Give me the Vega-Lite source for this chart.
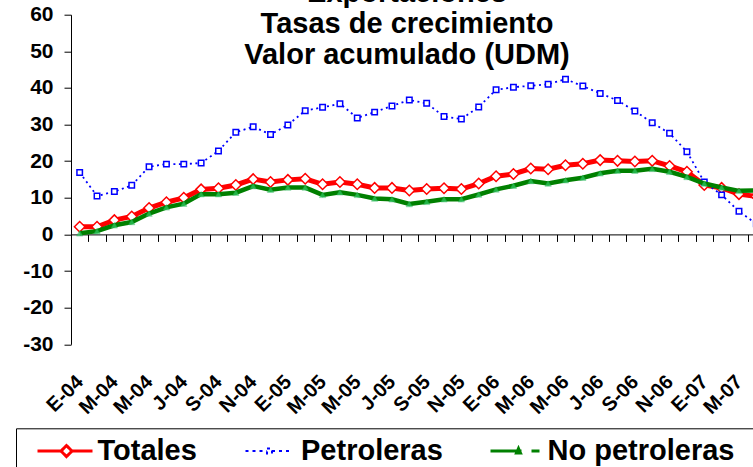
{
  "$schema": "https://vega.github.io/schema/vega-lite/v6.json",
  "width": 694,
  "height": 329.6,
  "autosize": {"type": "none"},
  "padding": {"left": 71, "top": 14.7, "right": 0, "bottom": 122.7},
  "background": "white",
  "title": {
    "text": ["Exportaciones", "Tasas de crecimiento", "Valor acumulado (UDM)"],
    "font": "Liberation Sans",
    "fontSize": 29,
    "fontWeight": "bold",
    "lineHeight": 31,
    "color": "black",
    "anchor": "middle",
    "offset": 0,
    "dx": -11,
    "dy": 66
  },
  "data": {
    "values": [
      {"mes": "2004-01", "serie": "Totales", "valor": 2.1}, {"mes": "2004-01", "serie": "Petroleras", "valor": 16.9}, {"mes": "2004-01", "serie": "No petroleras", "valor": 0.3},
      {"mes": "2004-02", "serie": "Totales", "valor": 2.1}, {"mes": "2004-02", "serie": "Petroleras", "valor": 10.5}, {"mes": "2004-02", "serie": "No petroleras", "valor": 0.9},
      {"mes": "2004-03", "serie": "Totales", "valor": 3.9}, {"mes": "2004-03", "serie": "Petroleras", "valor": 11.7}, {"mes": "2004-03", "serie": "No petroleras", "valor": 2.5},
      {"mes": "2004-04", "serie": "Totales", "valor": 4.9}, {"mes": "2004-04", "serie": "Petroleras", "valor": 13.4}, {"mes": "2004-04", "serie": "No petroleras", "valor": 3.4},
      {"mes": "2004-05", "serie": "Totales", "valor": 7.2}, {"mes": "2004-05", "serie": "Petroleras", "valor": 18.5}, {"mes": "2004-05", "serie": "No petroleras", "valor": 5.7},
      {"mes": "2004-06", "serie": "Totales", "valor": 8.8}, {"mes": "2004-06", "serie": "Petroleras", "valor": 19.2}, {"mes": "2004-06", "serie": "No petroleras", "valor": 7.4},
      {"mes": "2004-07", "serie": "Totales", "valor": 10.0}, {"mes": "2004-07", "serie": "Petroleras", "valor": 19.2}, {"mes": "2004-07", "serie": "No petroleras", "valor": 8.4},
      {"mes": "2004-08", "serie": "Totales", "valor": 12.3}, {"mes": "2004-08", "serie": "Petroleras", "valor": 19.5}, {"mes": "2004-08", "serie": "No petroleras", "valor": 11.0},
      {"mes": "2004-09", "serie": "Totales", "valor": 12.6}, {"mes": "2004-09", "serie": "Petroleras", "valor": 22.8}, {"mes": "2004-09", "serie": "No petroleras", "valor": 11.0},
      {"mes": "2004-10", "serie": "Totales", "valor": 13.5}, {"mes": "2004-10", "serie": "Petroleras", "valor": 27.9}, {"mes": "2004-10", "serie": "No petroleras", "valor": 11.4},
      {"mes": "2004-11", "serie": "Totales", "valor": 15.1}, {"mes": "2004-11", "serie": "Petroleras", "valor": 29.4}, {"mes": "2004-11", "serie": "No petroleras", "valor": 13.2},
      {"mes": "2004-12", "serie": "Totales", "valor": 14.3}, {"mes": "2004-12", "serie": "Petroleras", "valor": 27.3}, {"mes": "2004-12", "serie": "No petroleras", "valor": 12.2},
      {"mes": "2005-01", "serie": "Totales", "valor": 14.9}, {"mes": "2005-01", "serie": "Petroleras", "valor": 29.9}, {"mes": "2005-01", "serie": "No petroleras", "valor": 12.8},
      {"mes": "2005-02", "serie": "Totales", "valor": 15.2}, {"mes": "2005-02", "serie": "Petroleras", "valor": 33.8}, {"mes": "2005-02", "serie": "No petroleras", "valor": 12.8},
      {"mes": "2005-03", "serie": "Totales", "valor": 13.7}, {"mes": "2005-03", "serie": "Petroleras", "valor": 34.7}, {"mes": "2005-03", "serie": "No petroleras", "valor": 10.8},
      {"mes": "2005-04", "serie": "Totales", "valor": 14.3}, {"mes": "2005-04", "serie": "Petroleras", "valor": 35.7}, {"mes": "2005-04", "serie": "No petroleras", "valor": 11.5},
      {"mes": "2005-05", "serie": "Totales", "valor": 13.7}, {"mes": "2005-05", "serie": "Petroleras", "valor": 31.8}, {"mes": "2005-05", "serie": "No petroleras", "valor": 10.8},
      {"mes": "2005-06", "serie": "Totales", "valor": 12.7}, {"mes": "2005-06", "serie": "Petroleras", "valor": 33.4}, {"mes": "2005-06", "serie": "No petroleras", "valor": 9.8},
      {"mes": "2005-07", "serie": "Totales", "valor": 12.7}, {"mes": "2005-07", "serie": "Petroleras", "valor": 35.1}, {"mes": "2005-07", "serie": "No petroleras", "valor": 9.6},
      {"mes": "2005-08", "serie": "Totales", "valor": 12.0}, {"mes": "2005-08", "serie": "Petroleras", "valor": 36.7}, {"mes": "2005-08", "serie": "No petroleras", "valor": 8.3},
      {"mes": "2005-09", "serie": "Totales", "valor": 12.4}, {"mes": "2005-09", "serie": "Petroleras", "valor": 35.8}, {"mes": "2005-09", "serie": "No petroleras", "valor": 8.9},
      {"mes": "2005-10", "serie": "Totales", "valor": 12.6}, {"mes": "2005-10", "serie": "Petroleras", "valor": 32.2}, {"mes": "2005-10", "serie": "No petroleras", "valor": 9.6},
      {"mes": "2005-11", "serie": "Totales", "valor": 12.4}, {"mes": "2005-11", "serie": "Petroleras", "valor": 31.5}, {"mes": "2005-11", "serie": "No petroleras", "valor": 9.6},
      {"mes": "2005-12", "serie": "Totales", "valor": 13.9}, {"mes": "2005-12", "serie": "Petroleras", "valor": 34.8}, {"mes": "2005-12", "serie": "No petroleras", "valor": 10.9},
      {"mes": "2006-01", "serie": "Totales", "valor": 15.9}, {"mes": "2006-01", "serie": "Petroleras", "valor": 39.5}, {"mes": "2006-01", "serie": "No petroleras", "valor": 12.3},
      {"mes": "2006-02", "serie": "Totales", "valor": 16.5}, {"mes": "2006-02", "serie": "Petroleras", "valor": 40.2}, {"mes": "2006-02", "serie": "No petroleras", "valor": 13.3},
      {"mes": "2006-03", "serie": "Totales", "valor": 18.0}, {"mes": "2006-03", "serie": "Petroleras", "valor": 40.6}, {"mes": "2006-03", "serie": "No petroleras", "valor": 14.6},
      {"mes": "2006-04", "serie": "Totales", "valor": 17.8}, {"mes": "2006-04", "serie": "Petroleras", "valor": 41.0}, {"mes": "2006-04", "serie": "No petroleras", "valor": 13.9},
      {"mes": "2006-05", "serie": "Totales", "valor": 18.9}, {"mes": "2006-05", "serie": "Petroleras", "valor": 42.4}, {"mes": "2006-05", "serie": "No petroleras", "valor": 14.8},
      {"mes": "2006-06", "serie": "Totales", "valor": 19.3}, {"mes": "2006-06", "serie": "Petroleras", "valor": 40.5}, {"mes": "2006-06", "serie": "No petroleras", "valor": 15.5},
      {"mes": "2006-07", "serie": "Totales", "valor": 20.3}, {"mes": "2006-07", "serie": "Petroleras", "valor": 38.5}, {"mes": "2006-07", "serie": "No petroleras", "valor": 16.7},
      {"mes": "2006-08", "serie": "Totales", "valor": 20.1}, {"mes": "2006-08", "serie": "Petroleras", "valor": 36.6}, {"mes": "2006-08", "serie": "No petroleras", "valor": 17.4},
      {"mes": "2006-09", "serie": "Totales", "valor": 19.9}, {"mes": "2006-09", "serie": "Petroleras", "valor": 33.7}, {"mes": "2006-09", "serie": "No petroleras", "valor": 17.4},
      {"mes": "2006-10", "serie": "Totales", "valor": 20.1}, {"mes": "2006-10", "serie": "Petroleras", "valor": 30.5}, {"mes": "2006-10", "serie": "No petroleras", "valor": 17.9},
      {"mes": "2006-11", "serie": "Totales", "valor": 18.7}, {"mes": "2006-11", "serie": "Petroleras", "valor": 27.6}, {"mes": "2006-11", "serie": "No petroleras", "valor": 17.1},
      {"mes": "2006-12", "serie": "Totales", "valor": 17.1}, {"mes": "2006-12", "serie": "Petroleras", "valor": 22.6}, {"mes": "2006-12", "serie": "No petroleras", "valor": 15.7},
      {"mes": "2007-01", "serie": "Totales", "valor": 13.5}, {"mes": "2007-01", "serie": "Petroleras", "valor": 14.3}, {"mes": "2007-01", "serie": "No petroleras", "valor": 13.9},
      {"mes": "2007-02", "serie": "Totales", "valor": 12.7}, {"mes": "2007-02", "serie": "Petroleras", "valor": 10.8}, {"mes": "2007-02", "serie": "No petroleras", "valor": 12.8},
      {"mes": "2007-03", "serie": "Totales", "valor": 11.0}, {"mes": "2007-03", "serie": "Petroleras", "valor": 6.3}, {"mes": "2007-03", "serie": "No petroleras", "valor": 11.9},
      {"mes": "2007-04", "serie": "Totales", "valor": 10.4}, {"mes": "2007-04", "serie": "Petroleras", "valor": 2.9}, {"mes": "2007-04", "serie": "No petroleras", "valor": 12.0}
    ]
  },
  "encoding": {
    "x": {
      "field": "mes",
      "type": "ordinal",
      "scale": {"type": "band", "paddingInner": 0, "paddingOuter": 0},
      "axis": {
        "title": null,
        "orient": "bottom",
        "offset": -109.9,
        "tickBand": "extent",
        "tickSize": 7,
        "tickColor": "black",
        "domainColor": "black",
        "grid": false,
        "labelAngle": -45,
        "labelAlign": "right",
        "labelBaseline": "middle",
        "labelPadding": 137,
        "labelFont": "Liberation Sans",
        "labelFontSize": 20,
        "labelFontWeight": "bold",
        "labelColor": "black",
        "labelOverlap": false,
        "labelExpr": "toNumber(substring(datum.value, 5, 7)) % 2 == 1 ? ['E','F','M','A','M','J','J','A','S','O','N','D'][toNumber(substring(datum.value, 5, 7)) - 1] + '-' + substring(datum.value, 2, 4) : ''"
      }
    },
    "y": {
      "field": "valor",
      "type": "quantitative",
      "scale": {"domain": [-30, 60], "nice": false, "zero": false},
      "axis": {
        "title": null,
        "values": [-30, -20, -10, 0, 10, 20, 30, 40, 50, 60],
        "grid": false,
        "tickSize": 7,
        "tickColor": "black",
        "domainColor": "black",
        "labelPadding": 11,
        "labelFont": "Liberation Sans",
        "labelFontSize": 21,
        "labelFontWeight": "bold",
        "labelColor": "black",
        "labelExpr": "datum.value < 0 ? '-' + abs(datum.value) : '' + datum.value"
      }
    }
  },
  "layer": [
    {
      "transform": [{"filter": "datum.serie === 'Totales'"}],
      "mark": {"type": "line", "strokeWidth": 5},
      "encoding": {
        "color": {
          "field": "serie",
          "type": "nominal",
          "scale": {"domain": ["Totales", "Petroleras", "No petroleras"], "range": ["#ff0000", "#0000ff", "#008000"]},
          "legend": {
            "title": null,
            "orient": "none",
            "legendX": -55,
            "legendY": 413.6,
            "direction": "horizontal",
            "columns": 3,
            "columnPadding": 30.5,
            "padding": 8,
            "strokeColor": "black",
            "fillColor": "white",
            "symbolSize": 2500,
            "symbolOffset": 26.5,
            "labelOffset": 18,
            "labelFont": "Liberation Sans",
            "labelFontSize": 29,
            "labelFontWeight": "bold",
            "labelColor": "black",
            "labelLimit": 400,
            "encode": {
              "symbols": {
                "update": {
                  "shape": {"signal": "datum.value === 'Totales' ? 'M-1.1,0H-0.16M0.28,0H1.1M-0.16,0L0.06,-0.22L0.28,0L0.06,0.22Z' : datum.value === 'Petroleras' ? 'M-0.92,0H-0.06M0.14,0H0.92M-0.06,-0.1H0.14V0.1H-0.06Z' : 'M-0.98,0H0.26M0.66,0H0.98M0.06,0.08L0.14,-0.1L0.22,0.08Z M9.1,0'"},
                  "fill": {"signal": "datum.value === 'No petroleras' ? '#33cc66' : 'white'"},
                  "strokeWidth": {"signal": "datum.value === 'Petroleras' ? 2 : 3"},
                  "strokeDash": {"signal": "datum.value === 'Petroleras' ? [3, 4] : [1, 0]"}
                }
              }
            }
          }
        }
      }
    },
    {
      "transform": [{"filter": "datum.serie === 'Totales'"}],
      "mark": {"type": "point", "shape": "diamond", "size": 110, "filled": false, "fill": "white", "fillOpacity": 1, "stroke": "#ff0000", "strokeWidth": 1.5}
    },
    {
      "transform": [{"filter": "datum.serie === 'Petroleras'"}],
      "mark": {"type": "line", "strokeWidth": 1.8, "strokeDash": [2, 3.5]},
      "encoding": {"color": {"field": "serie", "type": "nominal"}}
    },
    {
      "transform": [{"filter": "datum.serie === 'Petroleras'"}],
      "mark": {"type": "point", "shape": "square", "size": 30, "filled": false, "fill": "white", "fillOpacity": 1, "stroke": "#0000ff", "strokeWidth": 1.5}
    },
    {
      "transform": [{"filter": "datum.serie === 'No petroleras'"}],
      "mark": {"type": "line", "strokeWidth": 4.5},
      "encoding": {"color": {"field": "serie", "type": "nominal"}}
    },
    {
      "transform": [{"filter": "datum.serie === 'No petroleras'"}],
      "mark": {"type": "point", "shape": "triangle-up", "size": 40, "filled": true, "fill": "#33cc66", "stroke": "#22aa55", "strokeWidth": 0.5}
    }
  ],
  "config": {"view": {"stroke": null}}
}
